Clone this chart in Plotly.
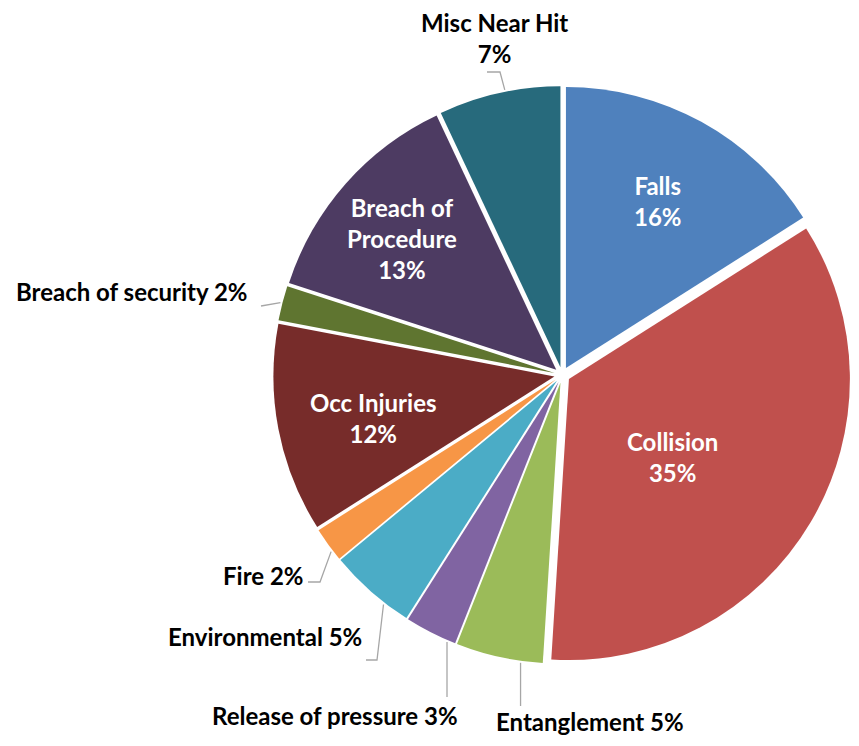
import math
import plotly.graph_objects as go

categories = ["Falls", "Collision", "Entanglement", "Release of pressure", "Environmental",
              "Fire", "Occ Injuries", "Breach of security", "Breach of Procedure", "Misc Near Hit"]
values = [16, 35, 5, 3, 5, 2, 12, 2, 13, 7]
display_labels = ["Falls", "Collision", "Entanglement", "Release of pressure", "Environmental",
                  "Fire", "Occ Injuries", "Breach of security", "Breach of<br>Procedure", "Misc Near Hit<br>"]
inside = [True, True, False, False, False, False, True, False, True, False]
colors = ["#4F81BD", "#C0504D", "#9BBB59", "#8064A2", "#4BACC6",
          "#F79646", "#772C2A", "#5F7530", "#4D3B62", "#276A7C"]

W, H = 843, 730
DOM_X = [0.3147, 1.0]
DOM_Y = [0.1016, 0.8930]
PULL = 0.028
FONT = "Lato"
FS = 24
LINE_COLOR = "#A6A6A6"

# inside labels: (angular fraction inside the slice, distance from slice centre as fraction of r)
inside_place = {
    "Falls": (0.5, 0.68),
    "Collision": (0.55, 0.46),
    "Occ Injuries": (0.45, 0.66),
    "Breach of Procedure": (0.48, 0.72),
}
# outside labels: text centre (px), angular fraction where the leader meets the slice,
# leader start point next to the text (px) and length of its horizontal elbow (px)
outside_place = {
    "Misc Near Hit": dict(pos=(486, 30), frac=0.55, start=(479, 64), elbow=13),
    "Breach of security": dict(pos=(124, 284), frac=0.5, start=(253, 298), elbow=0),
    "Fire": dict(pos=(255, 567), frac=0.3, start=(300, 574), elbow=12),
    "Environmental": dict(pos=(257, 628), frac=0.3, start=(358, 652), elbow=11),
    "Release of pressure": dict(pos=(327, 707), frac=0.15, start=(None, 689), elbow=0),
    "Entanglement": dict(pos=(582, 713), frac=0.25, start=(None, 698), elbow=0),
}

fig = go.Figure(go.Pie(
    labels=categories,
    values=values,
    sort=False,
    direction="clockwise",
    rotation=0,
    pull=[PULL] * len(values),
    marker=dict(colors=colors, line=dict(color="white", width=0)),
    textinfo="none",
    domain=dict(x=DOM_X, y=DOM_Y),
    showlegend=False,
    hoverinfo="label+percent",
))

# pie geometry (same rules plotly uses) to place the labels relative to their slices
boxW = W * (DOM_X[1] - DOM_X[0])
boxH = H * (DOM_Y[1] - DOM_Y[0])
r = min(boxW, boxH) / (2 + 2 * PULL)
cx = W * (DOM_X[0] + DOM_X[1]) / 2
cy = H * (1 - (DOM_Y[0] + DOM_Y[1]) / 2)
total = sum(values)


def px(x, y):
    return x / W, 1 - y / H


cum = 0
for cat, lab, v, ins in zip(categories, display_labels, values, inside):
    a0 = 2 * math.pi * cum / total
    a1 = 2 * math.pi * (cum + v) / total
    cum += v
    mid = (a0 + a1) / 2
    scx = cx + PULL * r * math.sin(mid)
    scy = cy - PULL * r * math.cos(mid)
    pct = round(100 * v / total)
    if ins:
        f, d = inside_place[cat]
        ang = a0 + f * (a1 - a0)
        lx = scx + d * r * math.sin(ang)
        ly = scy - d * r * math.cos(ang)
        x, y = px(lx, ly)
        fig.add_annotation(x=x, y=y, xref="paper", yref="paper", showarrow=False,
                           xanchor="center", yanchor="middle",
                           text=f"{lab}<br>{pct}%",
                           font=dict(family=FONT, size=FS, color="white", weight="bold"))
    else:
        p = outside_place[cat]
        ang = a0 + p["frac"] * (a1 - a0)
        tip_x = scx + (r + 2) * math.sin(ang)
        tip_y = scy - (r + 2) * math.cos(ang)
        sx, sy = p["start"]
        if sx is None:
            sx = tip_x
        pts = [(sx, sy)]
        if p["elbow"]:
            pts.append((sx + p["elbow"], sy))
        pts.append((tip_x, tip_y))
        path = "M " + " L ".join(f"{px(a, b)[0]:.5f},{px(a, b)[1]:.5f}" for a, b in pts)
        fig.add_shape(type="path", path=path, xref="paper", yref="paper",
                      line=dict(color=LINE_COLOR, width=1.3))
        lx, ly = p["pos"]
        x, y = px(lx, ly)
        text = f"{lab}{pct}%" if lab.endswith("<br>") else f"{lab} {pct}%"
        fig.add_annotation(x=x, y=y, xref="paper", yref="paper", showarrow=False,
                           xanchor="center", yanchor="middle",
                           text=text,
                           font=dict(family=FONT, size=FS, color="black", weight="bold"))

fig.update_layout(
    width=W, height=H,
    margin=dict(l=0, r=0, t=0, b=0),
    paper_bgcolor="white",
    font=dict(family=FONT, size=FS, color="black", weight="bold"),
)

fig.write_html("out.html")
